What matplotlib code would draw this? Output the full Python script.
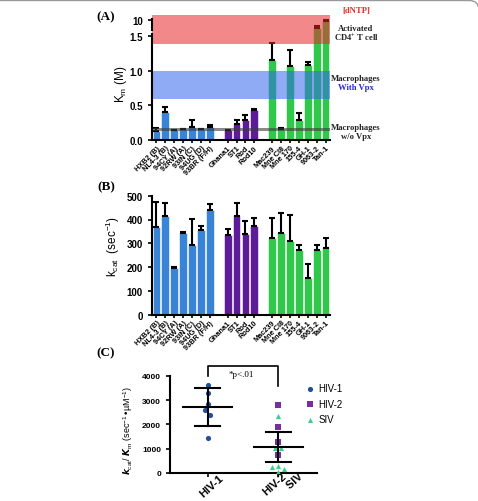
import numpy as np
import matplotlib
matplotlib.use("Agg")
import matplotlib.pyplot as plt
import matplotlib.transforms as mtransforms
from matplotlib.patches import FancyBboxPatch

plt.rcParams['font.family'] = ['Liberation Sans', 'DejaVu Sans']
plt.rcParams['font.weight'] = 'bold'
plt.rcParams['mathtext.default'] = 'regular'

strains = ['HXB2 (B)', 'NL4-3 (B)', '94CY (A)', '92RW (A)', '93IN (C)', '94UG (D)', '93BR (F/H)',
           'Ghana1', 'ST1', 'Rod', 'Rod10',
           'Mac239', 'Mne CI8', 'Mne 170', '155-4', 'GH-1', '9063-2', 'Tan-1']
groups = ['HIV-1'] * 7 + ['HIV-2'] * 4 + ['SIV'] * 7
km = [0.13, 0.40, 0.145, 0.155, 0.19, 0.16, 0.185,
      0.145, 0.235, 0.29, 0.44,
      1.16, 0.16, 1.07, 0.295, 1.08, 6.0, 9.3]
km_err = [0.045, 0.075, 0.005, 0.005, 0.105, 0.005, 0.035,
          0.005, 0.055, 0.065, 0.003,
          0.24, 0.02, 0.24, 0.095, 0.05, 1.1, 0.6]
kcat = [367, 413, 197, 343, 294, 357, 441,
        333, 416, 337, 371,
        324, 345, 308, 273, 155, 273, 282]
kcat_err = [107, 58, 5, 3, 110, 17, 24,
            25, 55, 55, 34,
            82, 82, 110, 20, 57, 20, 40]

# panel C
hiv1_eff = [3620, 3280, 2840, 2605, 2400, 1440]
hiv2_eff = [2810, 1890, 1260, 755]
siv_eff = [2360, 1015, 1015, 260, 300, 165, 27]
grp_mean = [2710, 1083]
grp_sd = [795, 618]

colors = {'HIV-1': '#3a84d8', 'HIV-2': '#5d1b98', 'SIV': '#30c84a'}
bar_x = np.array(list(range(0, 7)) + list(range(8, 12)) + list(range(13, 20)))
bar_c = [colors[g] for g in groups]


def fwd(v):
    v = np.asarray(v, float)
    return np.where(v <= 1.5, v, 1.5 + (v - 1.5) * 0.24 / 8.5)


def inv(t):
    t = np.asarray(t, float)
    return np.where(t <= 1.5, t, 1.5 + (t - 1.5) * 8.5 / 0.24)


W, H = 478, 502
fig = plt.figure(figsize=(W / 100, H / 100), dpi=100)


def axes_px(x0, y0, x1, y1):
    return fig.add_axes([x0 / W, 1 - y1 / H, (x1 - x0) / W, (y1 - y0) / H])


def style(ax):
    for s in ['top', 'right']:
        ax.spines[s].set_visible(False)
    for s in ['left', 'bottom']:
        ax.spines[s].set_linewidth(1.5)
    ax.tick_params(width=1.2, length=3, labelsize=7)


def bar_labels(ax):
    ax.set_xticks(bar_x)
    ax.set_xticklabels(strains, rotation=45, ha='right', rotation_mode='anchor', fontsize=5.3)
    ax.tick_params(axis='x', length=2, pad=1)
    ax.set_xlim(-0.5, 19.5)


# ---------- (A) ----------
axA = axes_px(152, 16, 330, 141)
style(axA)
axA.set_yscale('function', functions=(fwd, inv))
axA.bar(bar_x, km, width=0.88, color=bar_c, edgecolor='white', linewidth=0.4, zorder=2)
axA.errorbar(bar_x, km, yerr=[np.zeros(len(km)), km_err], fmt='none', ecolor='black',
             elinewidth=1.5, capsize=2.5, capthick=1.5, zorder=3)
axA.axhspan(1.39, 12.5, color='#e8262a', alpha=0.55, lw=0, zorder=4)
axA.axhspan(0.59, 1.0, color='#3366ee', alpha=0.55, lw=0, zorder=4)
axA.axhspan(0.125, 0.17, color='#3c3c3c', alpha=0.6, lw=0, zorder=4)
axA.set_ylim(0, 12.5)
axA.set_yticks([0, 0.5, 1.0, 1.5, 10])
axA.set_yticklabels(['0.0', '0.5', '1.0', '1.5', '10'])
axA.yaxis.set_minor_locator(plt.NullLocator())
axA.spines['left'].set_visible(False)
tr = axA.get_yaxis_transform()
axA.plot([0, 0], [0, 2.7], color='black', lw=1.5, transform=tr, clip_on=False, zorder=5)
axA.plot([0, 0], [4.8, 10.3], color='black', lw=1.5, transform=tr, clip_on=False, zorder=5)
bar_labels(axA)
axA.set_ylabel('K$_m$ (M)', fontsize=8.5)
axA.yaxis.set_label_coords(-0.13, 0.45)

# ---------- (B) ----------
axB = axes_px(152, 196.7, 330, 315.7)
style(axB)
axB.bar(bar_x, kcat, width=0.88, color=bar_c, edgecolor='white', linewidth=0.4, zorder=2)
axB.errorbar(bar_x, kcat, yerr=[np.zeros(len(kcat)), kcat_err], fmt='none', ecolor='black',
             elinewidth=1.5, capsize=2.5, capthick=1.5, zorder=3)
axB.set_ylim(0, 500)
axB.set_yticks(range(0, 501, 100))
bar_labels(axB)
axB.set_ylabel('k$_{cat}$  (sec$^{-1}$)', fontsize=8.5)
axB.yaxis.set_label_coords(-0.17, 0.58)

# ---------- (C) ----------
axC = axes_px(170, 376.7, 316.7, 474)
style(axC)
axC.tick_params(labelsize=6)
x1 = [0, 0.005, 0, -0.035, 0.04, 0]
x2 = [0, 0, 0, 0]
x3 = [0, -0.045, 0.04, -0.09, 0, 0.085, 0]
axC.scatter(np.array(x1), hiv1_eff, marker='o', s=14, color='#1f4f9e', lw=0, label='HIV-1', zorder=3)
axC.scatter(1 + np.array(x2), hiv2_eff, marker='s', s=14, color='#7a2d9c', lw=0, label='HIV-2', zorder=3)
axC.scatter(1 + np.array(x3), siv_eff, marker='^', s=14, color='#3ad08c', lw=0, label='SIV', zorder=3)
for i in range(2):
    m, sd = grp_mean[i], grp_sd[i]
    axC.plot([i - 0.34, i + 0.34], [m, m], color='black', lw=1.5, zorder=4)
    axC.plot([i - 0.18, i + 0.18], [m + sd, m + sd], color='black', lw=1.5, zorder=4)
    axC.plot([i - 0.18, i + 0.18], [m - sd, m - sd], color='black', lw=1.5, zorder=4)
    axC.plot([i, i], [m - sd, m + sd], color='black', lw=1.5, zorder=4)
axC.plot([0, 0, 1, 1], [4004, 4415, 4415, 3580], color='black', lw=1.2, clip_on=False)
axC.text(0.48, 4074, '*p<.01', ha='center', va='center', fontsize=6.5,
         family='Liberation Serif', fontweight='normal')
axC.set_xlim(-0.53, 1.54)
axC.set_ylim(0, 4000)
axC.set_yticks(range(0, 4001, 1000))
axC.set_xticks([0, 1])
axC.set_xticklabels(['HIV-1', 'HIV-2\n       SIV'], rotation=42, ha='center', va='center',
                    rotation_mode='anchor', fontsize=8, linespacing=1.2)
axC.get_xticklabels()[1].set_multialignment('left')
axC.tick_params(axis='x', pad=6)
for lab, dx, dy in zip(axC.get_xticklabels(), [4, 4], [0, 2]):
    lab.set_transform(lab.get_transform() +
                      mtransforms.ScaledTranslation(dx / 100, dy / 100, fig.dpi_scale_trans))
axC.set_ylabel(r'$\mathit{k}_{cat}$/ $\mathit{K}_m$ (sec$^{-1}$•µM$^{-1}$)', fontsize=6.5)
axC.yaxis.set_label_coords(-0.24, 0.45)
axC.legend(loc='upper left', bbox_to_anchor=(0.89, 0.97), frameon=False,
           prop={'size': 7, 'weight': 'normal'}, handlelength=1.0,
           handletextpad=0.3, labelspacing=0.55, markerscale=1.0, borderpad=0)

# ---------- panel letters / notes ----------
serif = 'Liberation Serif'
for lab, yy in [('(A)', 17), ('(B)', 187), ('(C)', 353)]:
    fig.text(106 / W, 1 - yy / H, lab, ha='center', va='center', fontsize=9.5,
             family=serif, fontweight='bold')
notes = [('[dNTP]', 11, '#e0302c'), ('Activated', 29, '#222222'), ('CD4$^{+}$ T cell', 38, '#222222'),
         ('Macrophages', 79, '#222222'), ('With Vpx', 88, '#2a2ad0'),
         ('Macrophages', 128, '#222222'), ('w/o Vpx', 137, '#222222')]
for txt, yy, col in notes:
    fig.text(356 / W, 1 - yy / H, txt, ha='center', va='center', fontsize=6.2,
             family=serif, fontweight='bold', color=col)

frame = FancyBboxPatch((-0.05, -0.5), 1.052, 1.497, boxstyle='round,pad=0,rounding_size=0.02',
                       transform=fig.transFigure, fill=False, edgecolor='#999999', lw=1.0)
fig.patches.append(frame)

fig.savefig('out.png', dpi=100)
